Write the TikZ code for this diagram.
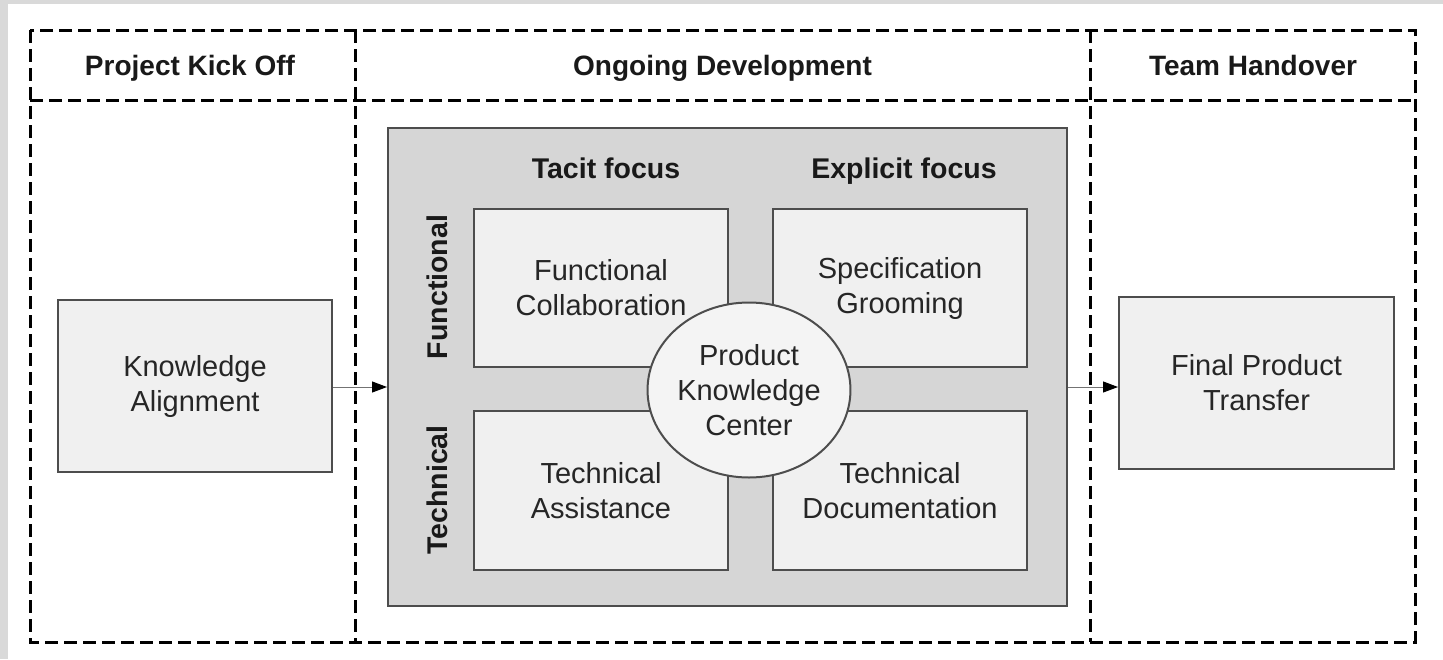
\documentclass[tikz,border=0pt]{standalone}
\usepackage{fontspec}
\setmainfont{Liberation Sans}
\usetikzlibrary{arrows.meta,shapes.geometric}
\definecolor{margingray}{HTML}{D9D9D9}
\definecolor{bggray}{HTML}{D6D6D6}
\definecolor{boxfill}{HTML}{F0F0F0}
\definecolor{boxline}{HTML}{4D4D4D}
\tikzset{
  frame/.style={line width=3pt, dash pattern=on 13pt off 6pt, black},
  header/.style={font=\bfseries\fontsize{28}{32}\selectfont, inner sep=0pt, text=black!90, anchor=base},
  qbox/.style={draw=boxline, line width=2pt, fill=boxfill, inner sep=0pt,
    align=center, font=\fontsize{29}{35}\selectfont, text=black!85},
  devbg/.style={draw=boxline, line width=2pt, fill=bggray, inner sep=0pt},
  label/.style={font=\bfseries\fontsize{28.5}{32}\selectfont, inner sep=0pt, text=black!90},
  arr/.style={draw=black!55, line width=1pt, -{Triangle[length=15pt,width=11pt,fill=black,color=black]}},
}
\begin{document}
\begin{tikzpicture}[x=1pt,y=-1pt]
\useasboundingbox (0,0) rectangle (1443,659);
\fill[white] (0,0) rectangle (1443,659);
\fill[margingray] (0,0) rectangle (1443,4);
\fill[margingray] (0,0) rectangle (8,659);
% frame
\draw[frame] (30,30) rectangle (1415,642);
\draw[frame] (30,100) -- (1415,100);
\draw[frame] (355,30) -- (355,642);
\draw[frame] (1090,30) -- (1090,642);
% headers
\node[header] (h1) at (190,75) {Project Kick Off};
\node[header] (h2) at (722.5,75) {Ongoing Development};
\node[header] (h3) at (1253,75) {Team Handover};
% development background
\node[devbg, minimum width=679pt, minimum height=478pt] (dev) at (727.5,367) {};
\node[label, anchor=base] (tacit) at (606,178) {Tacit focus};
\node[label, anchor=base] (explicit) at (904,178) {Explicit focus};
\node[label, rotate=90] (func) at (437,287) {Functional};
\node[label, rotate=90] (tech) at (437,490) {Technical};
% quadrant boxes
\node[qbox, minimum width=254pt, minimum height=158pt] (fc) at (601,288) {Functional\\Collaboration};
\node[qbox, minimum width=254pt, minimum height=158pt] (sg) at (900,288) {Specification\\Grooming};
\node[qbox, minimum width=254pt, minimum height=159pt] (ta) at (601,490.5) {Technical\\Assistance};
\node[qbox, minimum width=254pt, minimum height=159pt] (td) at (900,490.5) {Technical\\Documentation};
\node[qbox, ellipse, fill=boxfill!70!white, minimum width=202pt, minimum height=175pt] (pkc) at (749,390) {Product\\Knowledge\\Center};
% side boxes
\node[qbox, minimum width=274pt, minimum height=172pt] (ka) at (195,386) {Knowledge\\Alignment};
\node[qbox, minimum width=275pt, minimum height=172pt] (fpt) at (1256.5,383) {Final Product\\Transfer};
% arrows
\coordinate (a1) at (332,387);
\draw[arr] (ka.east |- a1) -- (dev.west |- a1);
\draw[arr] (dev.east |- a1) -- (fpt.west |- a1);
\end{tikzpicture}
\end{document}
